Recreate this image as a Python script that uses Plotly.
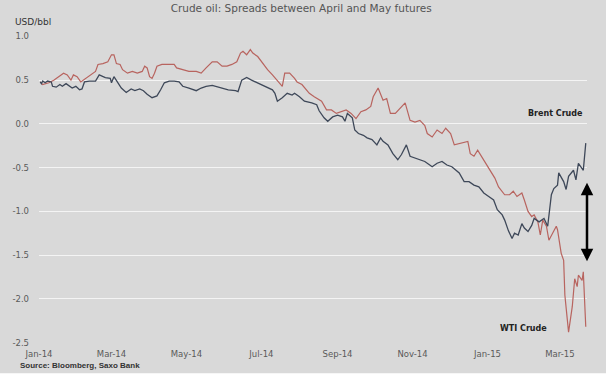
import plotly.graph_objects as go

# ---- data ----
brent_dates = [
    "2014-01-02", "2014-01-03", "2014-01-04", "2014-01-06", "2014-01-08", "2014-01-11", "2014-01-12",
    "2014-01-15", "2014-01-18", "2014-01-20", "2014-01-23", "2014-01-26", "2014-01-28", "2014-01-31",
    "2014-02-03", "2014-02-05", "2014-02-07", "2014-02-11", "2014-02-16", "2014-02-19", "2014-02-21",
    "2014-02-24", "2014-02-28", "2014-03-01", "2014-03-03", "2014-03-06", "2014-03-09", "2014-03-13",
    "2014-03-17", "2014-03-20", "2014-03-24", "2014-03-27", "2014-03-30", "2014-04-03", "2014-04-07",
    "2014-04-10", "2014-04-13", "2014-04-17", "2014-04-21", "2014-04-25", "2014-04-28", "2014-05-03",
    "2014-05-09", "2014-05-13", "2014-05-17", "2014-05-22", "2014-05-25", "2014-05-30", "2014-06-04",
    "2014-06-10", "2014-06-12", "2014-06-15", "2014-06-19", "2014-06-23", "2014-06-28", "2014-07-04",
    "2014-07-10", "2014-07-12", "2014-07-14", "2014-07-18", "2014-07-22", "2014-07-26", "2014-07-28",
    "2014-08-01", "2014-08-05", "2014-08-11", "2014-08-15", "2014-08-17", "2014-08-21", "2014-08-24",
    "2014-08-28", "2014-09-01", "2014-09-05", "2014-09-07", "2014-09-09", "2014-09-13", "2014-09-15",
    "2014-09-18", "2014-09-22", "2014-09-25", "2014-09-29", "2014-10-03", "2014-10-06", "2014-10-08",
    "2014-10-12", "2014-10-16", "2014-10-20", "2014-10-23", "2014-10-27", "2014-10-30", "2014-11-03",
    "2014-11-07", "2014-11-11", "2014-11-15", "2014-11-17", "2014-11-21", "2014-11-25", "2014-11-29",
    "2014-12-03", "2014-12-09", "2014-12-13", "2014-12-17", "2014-12-21", "2014-12-25", "2014-12-29",
    "2015-01-02", "2015-01-06", "2015-01-09", "2015-01-13", "2015-01-15", "2015-01-18", "2015-01-21",
    "2015-01-23", "2015-01-26", "2015-01-29", "2015-01-31", "2015-02-03", "2015-02-06", "2015-02-08",
    "2015-02-12", "2015-02-16", "2015-02-19", "2015-02-22", "2015-02-24", "2015-02-27", "2015-02-28",
    "2015-03-04", "2015-03-06", "2015-03-08", "2015-03-12", "2015-03-14", "2015-03-16", "2015-03-20",
    "2015-03-22",
]
brent_values = [
    0.48, 0.46, 0.49, 0.47, 0.49, 0.48, 0.43,
    0.42, 0.45, 0.43, 0.46, 0.43, 0.41, 0.43,
    0.39, 0.40, 0.48, 0.49, 0.49, 0.56, 0.55,
    0.53, 0.52, 0.47, 0.54, 0.47, 0.41, 0.36,
    0.40, 0.38, 0.40, 0.38, 0.34, 0.30, 0.32,
    0.39, 0.47, 0.49, 0.49, 0.48, 0.43, 0.41,
    0.38, 0.41, 0.43, 0.44, 0.43, 0.41, 0.39,
    0.38, 0.37, 0.50, 0.53, 0.50, 0.47, 0.43,
    0.39, 0.35, 0.26, 0.30, 0.35, 0.33, 0.35,
    0.31, 0.26, 0.24, 0.22, 0.15, 0.07, 0.03,
    0.08, 0.10, 0.08, 0.03, 0.12, 0.07, -0.07,
    -0.11, -0.13, -0.16, -0.18, -0.24, -0.16, -0.20,
    -0.24, -0.34, -0.41, -0.35, -0.24, -0.37, -0.39,
    -0.41, -0.43, -0.47, -0.49, -0.45, -0.43, -0.47,
    -0.49, -0.56, -0.66, -0.66, -0.70, -0.72, -0.79,
    -0.83, -0.87, -0.98, -1.04, -1.10, -1.22, -1.31,
    -1.25, -1.27, -1.14, -1.19, -1.23, -1.16, -1.08,
    -1.12, -1.08, -1.17, -0.81, -0.74, -0.70, -0.56,
    -0.66, -0.75, -0.60, -0.53, -0.64, -0.45, -0.53,
    -0.22,
]

wti_dates = [
    "2014-01-02", "2014-01-04", "2014-01-09", "2014-01-13", "2014-01-17", "2014-01-21", "2014-01-24",
    "2014-01-27", "2014-01-29", "2014-02-01", "2014-02-04", "2014-02-08", "2014-02-12", "2014-02-16",
    "2014-02-18", "2014-02-22", "2014-02-26", "2014-03-01", "2014-03-03", "2014-03-05", "2014-03-08",
    "2014-03-10", "2014-03-14", "2014-03-18", "2014-03-22", "2014-03-26", "2014-03-28", "2014-03-30",
    "2014-04-01", "2014-04-03", "2014-04-05", "2014-04-07", "2014-04-11", "2014-04-15", "2014-04-21",
    "2014-04-23", "2014-04-28", "2014-05-03", "2014-05-09", "2014-05-13", "2014-05-17", "2014-05-22",
    "2014-05-26", "2014-05-30", "2014-06-03", "2014-06-07", "2014-06-11", "2014-06-14", "2014-06-16",
    "2014-06-19", "2014-06-22", "2014-06-24", "2014-06-28", "2014-07-02", "2014-07-06", "2014-07-10",
    "2014-07-14", "2014-07-16", "2014-07-18", "2014-07-20", "2014-07-24", "2014-07-28", "2014-07-30",
    "2014-08-03", "2014-08-07", "2014-08-09", "2014-08-13", "2014-08-19", "2014-08-23", "2014-08-27",
    "2014-08-31", "2014-09-04", "2014-09-08", "2014-09-12", "2014-09-16", "2014-09-20", "2014-09-24",
    "2014-09-28", "2014-09-30", "2014-10-04", "2014-10-06", "2014-10-08", "2014-10-11", "2014-10-14",
    "2014-10-18", "2014-10-22", "2014-10-26", "2014-10-30", "2014-11-03", "2014-11-07", "2014-11-11",
    "2014-11-13", "2014-11-17", "2014-11-21", "2014-11-25", "2014-11-28", "2014-12-02", "2014-12-05",
    "2014-12-10", "2014-12-16", "2014-12-18", "2014-12-21", "2014-12-24", "2014-12-28", "2014-12-30",
    "2015-01-03", "2015-01-07", "2015-01-10", "2015-01-13", "2015-01-15", "2015-01-19", "2015-01-22",
    "2015-01-25", "2015-01-29", "2015-01-31", "2015-02-03", "2015-02-06", "2015-02-08", "2015-02-11",
    "2015-02-13", "2015-02-15", "2015-02-18", "2015-02-20", "2015-02-23", "2015-02-26", "2015-02-27",
    "2015-03-02", "2015-03-04", "2015-03-05", "2015-03-07", "2015-03-08", "2015-03-11", "2015-03-12",
    "2015-03-13", "2015-03-15", "2015-03-16", "2015-03-19", "2015-03-20", "2015-03-22",
]
wti_values = [
    0.48, 0.45, 0.47, 0.50, 0.54, 0.58, 0.56,
    0.50, 0.56, 0.54, 0.48, 0.52, 0.56, 0.60,
    0.68, 0.69, 0.71, 0.79, 0.79, 0.69, 0.68,
    0.62, 0.58, 0.60, 0.58, 0.60, 0.66, 0.64,
    0.54, 0.52, 0.58, 0.66, 0.68, 0.68, 0.68,
    0.64, 0.62, 0.60, 0.60, 0.58, 0.64, 0.71,
    0.71, 0.66, 0.66, 0.68, 0.71, 0.81, 0.83,
    0.79, 0.85, 0.81, 0.77, 0.69, 0.62, 0.56,
    0.50, 0.47, 0.43, 0.58, 0.58, 0.52, 0.48,
    0.45, 0.39, 0.35, 0.31, 0.26, 0.16, 0.16,
    0.12, 0.14, 0.16, 0.12, 0.06, 0.14, 0.16,
    0.20, 0.31, 0.41, 0.35, 0.27, 0.29, 0.12,
    0.12, 0.18, 0.24, 0.04, 0.02, 0.04, -0.02,
    -0.11, -0.15, -0.07, -0.11, -0.05, -0.11, -0.24,
    -0.22, -0.20, -0.34, -0.37, -0.30, -0.39, -0.45,
    -0.53, -0.62, -0.72, -0.77, -0.81, -0.81, -0.77,
    -0.83, -0.79, -0.87, -1.00, -1.06, -1.04, -1.12,
    -1.27, -1.10, -1.17, -1.33, -1.25, -1.17, -1.21,
    -1.48, -1.56, -1.96, -2.24, -2.38, -2.09, -1.96,
    -1.77, -1.86, -1.73, -1.79, -1.69, -2.32,
]

y_ticks = [1.0, 0.5, 0.0, -0.5, -1.0, -1.5, -2.0, -2.5]
y_tick_labels = ["1.0", "0.5", "0.0", "-0.5", "-1.0", "-1.5", "-2.0", "-2.5"]
title_text = "Crude oil: Spreads between April and May futures"
unit_text = "USD/bbl"
source_text = "Source: Bloomberg, Saxo Bank"
brent_label = "Brent Crude"
wti_label = "WTI Crude"

BG = "#d9d9d9"
FONT = "DejaVu Sans, Verdana, sans-serif"

fig = go.Figure()
fig.add_trace(go.Scatter(x=wti_dates, y=wti_values, mode="lines", name=wti_label,
                         line=dict(color="#b8645f", width=1.2)))
fig.add_trace(go.Scatter(x=brent_dates, y=brent_values, mode="lines", name=brent_label,
                         line=dict(color="#3e4859", width=1.3)))

fig.update_layout(
    width=606, height=377,
    paper_bgcolor=BG, plot_bgcolor=BG,
    margin=dict(l=31, r=19, t=36, b=34),
    showlegend=False,
    font=dict(family=FONT, size=9, color="#5a5a5a"),
    title=dict(text=title_text, x=0.497, xanchor="center", y=0.978, yanchor="middle",
               font=dict(family=FONT, size=10.5, color="#555555")),
    xaxis=dict(
        type="date", range=["2014-01-01", "2015-03-23"],
        tick0="2014-01-01", dtick="M2", tickformat="%b-%y",
        showgrid=False, zeroline=False, showline=False, ticks="", ticklabelstandoff=4,
        tickfont=dict(family=FONT, size=8.5, color="#5a5a5a"),
    ),
    yaxis=dict(
        range=[-2.505, 1.005], tickvals=y_ticks, ticktext=y_tick_labels,
        showgrid=True, gridcolor="#f4f4f4", gridwidth=1,
        zeroline=False, showline=False, ticks="", ticklabelstandoff=9,
        tickfont=dict(family=FONT, size=8.5, color="#5a5a5a"),
    ),
)

# thin white strip along the bottom edge of the picture
fig.add_shape(type="rect", xref="paper", yref="paper", x0=-0.1, x1=1.1, y0=-0.0985, y1=-0.12,
              fillcolor="#ffffff", line=dict(width=0), layer="above")

fig.add_annotation(text=unit_text, xref="paper", yref="paper", x=-0.0468, y=1.0456,
                   xanchor="left", yanchor="middle", showarrow=False,
                   font=dict(family=FONT, size=9, color="#333333"))
fig.add_annotation(text="<b>" + source_text + "</b>", xref="paper", yref="paper", x=-0.039, y=-0.0749,
                   xanchor="left", yanchor="middle", showarrow=False,
                   font=dict(family="Liberation Sans, Arial, sans-serif", size=8, color="#333333"))
fig.add_annotation(text="<b>" + brent_label + "</b>", xref="paper", yref="y", x=0.942, y=0.123,
                   xanchor="center", yanchor="middle", showarrow=False,
                   font=dict(family=FONT, size=8, color="#222222"))
fig.add_annotation(text="<b>" + wti_label + "</b>", xref="paper", yref="y", x=0.884, y=-2.34,
                   xanchor="center", yanchor="middle", showarrow=False,
                   font=dict(family=FONT, size=8, color="#222222"))
# double-headed arrow showing the widening gap
fig.add_annotation(text="", xref="paper", yref="y", x=1.0, y=-1.57,
                   axref="pixel", ayref="y", ax=0, ay=-0.655,
                   showarrow=True, arrowhead=2, arrowside="end+start",
                   arrowwidth=2.5, arrowsize=1.0, arrowcolor="#000000", standoff=0, startstandoff=0)

fig.write_html("out.html",
               config={"displayModeBar": False},
               post_script="document.body.style.margin='0';document.body.style.padding='0';")
